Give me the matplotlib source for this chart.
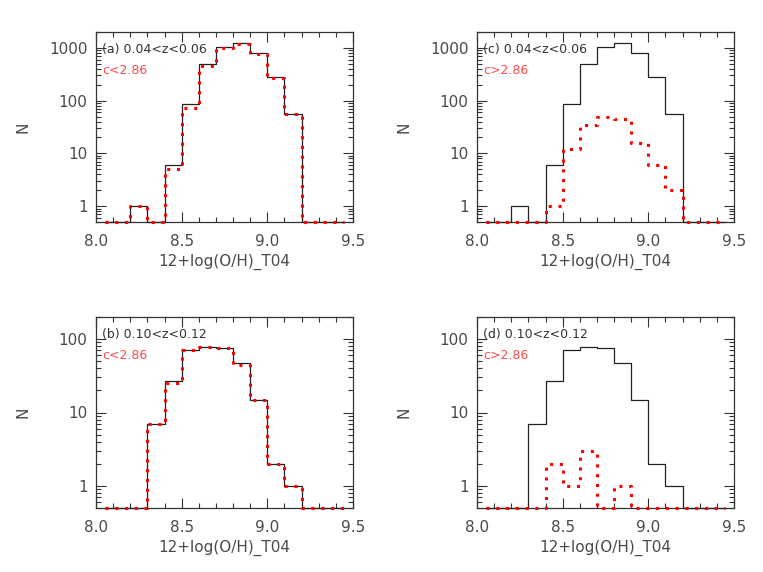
import numpy as np
import matplotlib
matplotlib.use("Agg")
import matplotlib.pyplot as plt
from matplotlib.ticker import MultipleLocator, LogLocator, NullFormatter, FixedLocator, FuncFormatter

# bin centers
centers = [8.05, 8.15, 8.25, 8.35, 8.45, 8.55, 8.65, 8.75, 8.85, 8.95, 9.05, 9.15, 9.25, 9.35, 9.45]

# z = 0.04-0.06, all galaxies
all_low = [0, 0, 1, 0, 6, 85, 500, 1020, 1220, 790, 280, 57, 0, 0, 0]
# z = 0.04-0.06, c<2.86
lowc_low = [0, 0, 1, 0, 5, 73, 450, 1000, 1190, 780, 270, 56, 0, 0, 0]
# z = 0.04-0.06, c>2.86
highc_low = [0, 0, 0, 0, 1, 12, 34, 49, 45, 16, 6, 2, 0, 0, 0]

# z = 0.10-0.12, all galaxies
all_high = [0, 0, 0, 7, 27, 70, 78, 75, 47, 15, 2, 1, 0, 0, 0]
# z = 0.10-0.12, c<2.86
lowc_high = [0, 0, 0, 7, 25, 70, 77, 75, 44, 15, 2, 1, 0, 0, 0]
# z = 0.10-0.12, c>2.86
highc_high = [0, 0, 0, 0, 2, 1, 3, 0, 1, 0, 0, 0, 0, 0, 0]

xtick_vals = [8.0, 8.5, 9.0, 9.5]
xtick_labels = ["8.0", "8.5", "9.0", "9.5"]

panels = [
    dict(label="(a)", zr="0.04<z<0.06", ctext="c<2.86", black=all_low, red=lowc_low, ylim=(0.5, 2000)),
    dict(label="(c)", zr="0.04<z<0.06", ctext="c>2.86", black=all_low, red=highc_low, ylim=(0.5, 2000)),
    dict(label="(b)", zr="0.10<z<0.12", ctext="c<2.86", black=all_high, red=lowc_high, ylim=(0.5, 200)),
    dict(label="(d)", zr="0.10<z<0.12", ctext="c>2.86", black=all_high, red=highc_high, ylim=(0.5, 200)),
]

W, H = 763, 572
fig = plt.figure(figsize=(W / 100, H / 100), dpi=100)

boxes = [
    (96, 32, 353, 222),
    (477, 32, 734, 222),
    (96, 317, 353, 508),
    (477, 317, 734, 508),
]

textcol = "#4a4a4a"
for p, (x0, y0, x1, y1) in zip(panels, boxes):
    ax = fig.add_axes([x0 / W, 1 - y1 / H, (x1 - x0) / W, (y1 - y0) / H])
    ymin = p["ylim"][0]
    b = np.clip(np.array(p["black"], dtype=float), ymin, None)
    r = np.clip(np.array(p["red"], dtype=float), ymin, None)
    ax.step(centers, b, where="mid", color="#222222", lw=0.9, clip_on=False, zorder=3)
    ax.step(centers, r, where="mid", color="red", lw=2.2, linestyle=(0, (1, 2.2)),
            clip_on=False, zorder=4)
    ax.set_yscale("log")
    ax.set_xlim(8.0, 9.5)
    ax.set_ylim(*p["ylim"])
    ax.xaxis.set_major_locator(FixedLocator(xtick_vals))
    ax.xaxis.set_minor_locator(MultipleLocator(0.1))
    ax.set_xticklabels(xtick_labels)
    ax.yaxis.set_major_locator(LogLocator(base=10, numticks=10))
    ax.yaxis.set_minor_locator(LogLocator(base=10, subs=np.arange(2, 10), numticks=10))
    ax.yaxis.set_minor_formatter(NullFormatter())
    ax.yaxis.set_major_formatter(FuncFormatter(lambda v, pos: "%d" % round(v) if v >= 1 else ""))
    ax.tick_params(which="both", direction="in", top=True, right=True, colors="#333333",
                   labelcolor=textcol, labelsize=11, width=0.8)
    ax.tick_params(axis="x", which="major", length=7, pad=9)
    ax.tick_params(axis="y", which="major", length=7, pad=6)
    ax.tick_params(which="minor", length=3.5)
    for s in ax.spines.values():
        s.set_color("#333333")
        s.set_linewidth(0.9)
    ax.set_xlabel("12+log(O/H)_T04", color=textcol, fontsize=11, labelpad=3)
    ax.set_ylabel("N", color=textcol, fontsize=11)
    ax.yaxis.set_label_coords(-0.255, 0.5)
    ax.text(0.025, 0.91, p["label"] + " " + p["zr"], transform=ax.transAxes,
            fontsize=9, color="#333333", va="center", ha="left")
    ax.text(0.025, 0.80, p["ctext"], transform=ax.transAxes,
            fontsize=9, color="#ff4a4a", va="center", ha="left")

fig.savefig("out.png", dpi=100)
